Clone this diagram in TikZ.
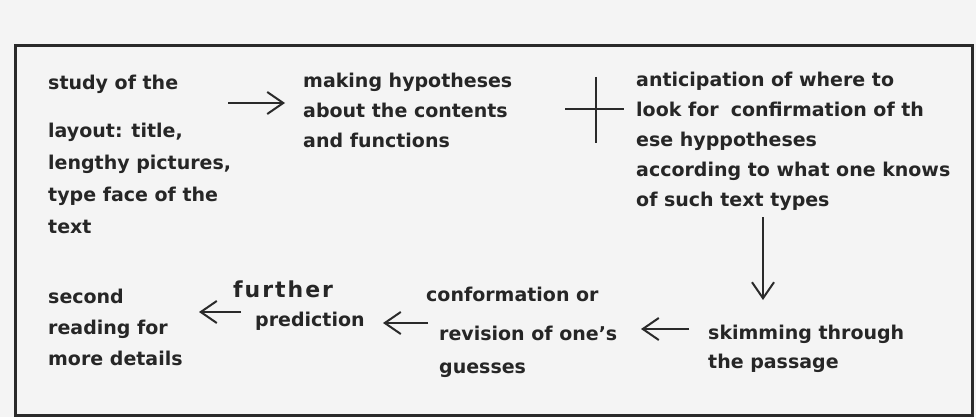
\documentclass[tikz,border=0pt]{standalone}
\usepackage{fontspec}
\setmainfont{DejaVu Sans}
\newfontfamily\widefont{DejaVu Sans}[LetterSpace=9]
\usepackage{xcolor}
\usepackage{tikz}
\usetikzlibrary{arrows.meta}
\definecolor{paper}{HTML}{F4F4F4}
\definecolor{ink}{HTML}{262626}
\definecolor{rule}{HTML}{2A2A2A}
\tikzset{
  stagetxt/.style={font=\bfseries\fontsize{19}{32}\selectfont, text=ink, align=left, inner sep=0pt, anchor=base west},
  flowline/.style={-{Straight Barb[length=16pt,width=22pt]}, line width=2pt, draw=rule},
  crossline/.style={line width=1.8pt, draw=rule},
  framebox/.style={draw=rule, line width=3pt}
}
\begin{document}
\begin{tikzpicture}[x=1pt,y=-1pt]
  \fill[paper] (0,0) rectangle (976,417);
  \useasboundingbox (0,0) rectangle (976,417);
  \draw[framebox] (15,46) rectangle (972,415);

  % upper row (nodes sit on the baseline of their last line)
  \node[stagetxt] (study) at (48,233) {study of the\\[16pt]layout: title,\\lengthy pictures,\\type face of the\\text};
  \node[stagetxt, font=\bfseries\fontsize{19}{30}\selectfont] (hypo) at (303,147) {making hypotheses\\about the contents\\and functions};
  \node[stagetxt, font=\bfseries\fontsize{19}{30}\selectfont] (antic) at (636,206) {anticipation of where to\\look for\hspace{12pt}confirmation of th\\ese hyppotheses\\according to what one knows\\of such text types};

  % lower row
  \node[stagetxt, font=\bfseries\fontsize{19}{29}\selectfont] (skim) at (708,368) {skimming through\\the passage};
  \node[stagetxt, font=\bfseries\fontsize{19}{33}\selectfont] (conf) at (426,373) {conformation or\\[6pt]\hspace{13pt}revision of one’s\\\hspace{13pt}guesses};
  \node[stagetxt, font=\bfseries\fontsize{19}{29}\selectfont] (pred) at (233,326) {{\widefont\fontsize{22}{29}\selectfont further}\\\hspace{22pt}prediction};
  \node[stagetxt, font=\bfseries\fontsize{19}{31}\selectfont] (second) at (48,365) {second\\reading for\\more details};

  % connector ends
  \coordinate (hypoA) at (228,103);
  \coordinate (hypoB) at (285,103);
  \coordinate (crossT) at (596,77);
  \coordinate (crossB) at (596,143);
  \coordinate (crossL) at (565,109);
  \coordinate (crossR) at (624,109);
  \coordinate (downA) at (763,217);
  \coordinate (downB) at (763,300);
  \coordinate (skimA) at (689,329);
  \coordinate (skimB) at (641,329);
  \coordinate (confA) at (428,323);
  \coordinate (confB) at (383,323);
  \coordinate (predA) at (241,312);
  \coordinate (predB) at (199,312);

  \draw[flowline] (hypoA) -- (hypoB);
  \draw[crossline] (crossT) -- (crossB);
  \draw[crossline] (crossL) -- (crossR);
  \draw[flowline] (downA) -- (downB);
  \draw[flowline] (skimA) -- (skimB);
  \draw[flowline] (confA) -- (confB);
  \draw[flowline] (predA) -- (predB);
\end{tikzpicture}
\end{document}
